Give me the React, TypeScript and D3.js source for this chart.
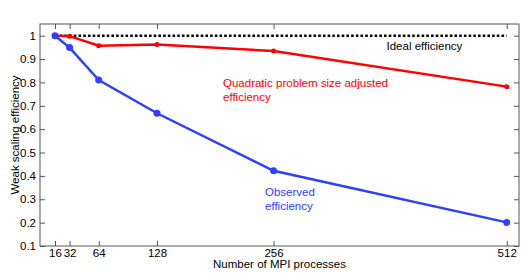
import React, { useEffect, useRef } from "react";
import * as d3 from "d3";

const procs = [16, 32, 64, 128, 256, 512];
const observed = [1.0, 0.949, 0.81, 0.668, 0.422, 0.201];
const adjusted = [1.0, 0.998, 0.957, 0.962, 0.934, 0.782];
const ideal = [1, 1, 1, 1, 1, 1];
const yTicks = [0.1, 0.2, 0.3, 0.4, 0.5, 0.6, 0.7, 0.8, 0.9, 1];
const yTickLabels = ["0.1", "0.2", "0.3", "0.4", "0.5", "0.6", "0.7", "0.8", "0.9", "1"];

const W = 521, H = 274;
const left = 40, right = 519, top = 24, bottom = 246;

export default function App() {
  const ref = useRef<SVGSVGElement>(null);

  useEffect(() => {
    const svg = d3.select(ref.current);
    svg.selectAll("*").remove();

    // x: linear in process count, 16 -> 55px, 512 -> 506.7px
    const x = d3.scaleLinear().domain([16, 512]).range([55, 506.7]);
    const y = d3.scaleLinear().domain([0.1, 1.05]).range([bottom, top]);

    const font = "'Liberation Sans', Arial, sans-serif";
    const fs = "11.5px";
    const axisColor = "#555";

    const g = svg.append("g");

    // frame
    g.append("rect")
      .attr("x", left).attr("y", top)
      .attr("width", right - left).attr("height", bottom - top)
      .attr("fill", "none").attr("stroke", axisColor).attr("stroke-width", 1);

    const xb = g.append("g").attr("transform", `translate(0,${bottom})`)
      .call(d3.axisBottom(x).tickValues(procs).tickSize(-5).tickPadding(3).tickFormat(d3.format("d")));
    const xt = g.append("g").attr("transform", `translate(0,${top})`)
      .call(d3.axisTop(x).tickValues(procs).tickSize(-5).tickFormat(() => ""));
    const yl = g.append("g").attr("transform", `translate(${left},0)`)
      .call(d3.axisLeft(y).tickValues(yTicks).tickSize(-5).tickPadding(4)
        .tickFormat((d, i) => yTickLabels[i]));
    const yr = g.append("g").attr("transform", `translate(${right},0)`)
      .call(d3.axisRight(y).tickValues(yTicks).tickSize(-5).tickFormat(() => ""));

    [xb, xt, yl, yr].forEach(a => {
      a.select(".domain").remove();
      a.selectAll("line").attr("stroke", axisColor);
      a.selectAll("text").attr("fill", "#000").style("font-family", font).style("font-size", fs);
    });

    const line = d3.line<number>().x((d, i) => x(procs[i])).y(d => y(d));

    // ideal
    g.append("path").datum(ideal)
      .attr("d", line).attr("fill", "none").attr("stroke", "#000")
      .attr("stroke-width", 2.6).attr("stroke-dasharray", "2.6,2.1");

    // adjusted
    g.append("path").datum(adjusted)
      .attr("d", line).attr("fill", "none").attr("stroke", "#ff0000").attr("stroke-width", 2.5);
    g.selectAll(".radj").data(adjusted).enter().append("circle")
      .attr("cx", (d, i) => x(procs[i])).attr("cy", d => y(d)).attr("r", 2.5).attr("fill", "#ff0000");

    // observed
    g.append("path").datum(observed)
      .attr("d", line).attr("fill", "none").attr("stroke", "#2f3fff").attr("stroke-width", 2.5);
    g.selectAll(".bobs").data(observed).enter().append("circle")
      .attr("cx", (d, i) => x(procs[i])).attr("cy", d => y(d)).attr("r", 3.5).attr("fill", "#2f3fff");

    const label = (tx: number, ty: number, s: string, c: string, anchor = "start") =>
      g.append("text").attr("x", tx).attr("y", ty).text(s)
        .attr("fill", c).attr("text-anchor", anchor)
        .style("font-family", font).style("font-size", fs);

    label(386.5, 50, "Ideal efficiency", "#000");
    label(223, 87, "Quadratic problem size adjusted", "#ff0000");
    label(223, 101, "efficiency", "#ff0000");
    label(265, 196, "Observed", "#2f3fff");
    label(265, 210, "efficiency", "#2f3fff");

    label((left + right) / 2, 268, "Number of MPI processes", "#000", "middle");

    g.append("text")
      .attr("transform", `translate(18.5,${(top + bottom) / 2}) rotate(-90)`)
      .attr("text-anchor", "middle")
      .style("font-family", font).style("font-size", fs)
      .text("Weak scaling efficiency");
  }, []);

  return (
    <svg ref={ref} width={W} height={H}
      style={{ position: "absolute", left: 0, top: 0, background: "#fff" }} />
  );
}
